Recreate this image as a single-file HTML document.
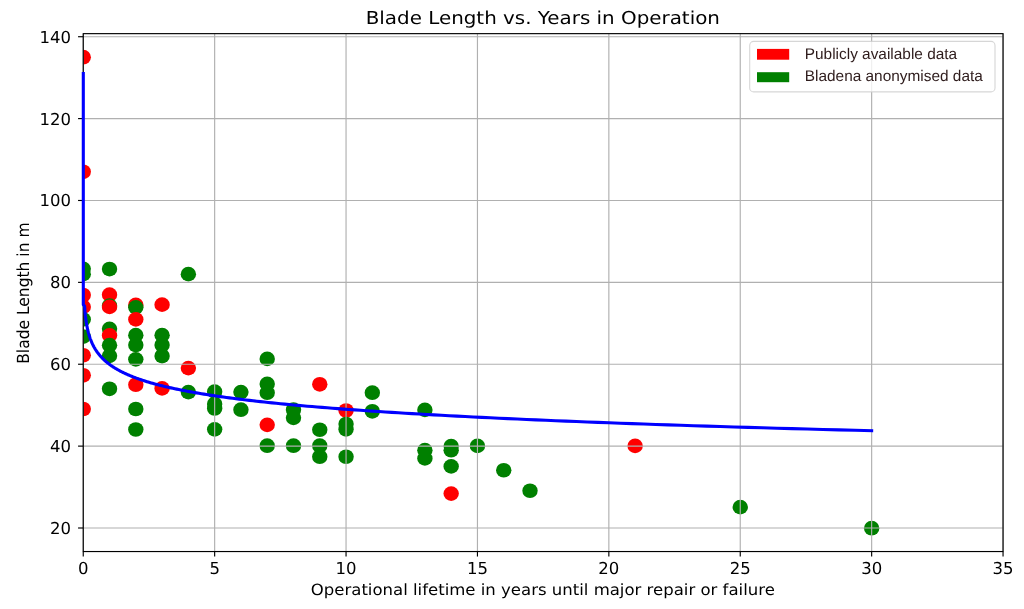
<!DOCTYPE html>
<html><head><meta charset="utf-8"><title>Blade Length vs. Years in Operation</title>
<style>
html,body{margin:0;padding:0;background:#fff;}
body{width:1024px;height:609px;overflow:hidden;}
svg{display:block;will-change:transform;}
text{font-family:"DejaVu Sans","Liberation Sans",sans-serif;fill:#000;text-rendering:geometricPrecision;}
.lg{font-family:"Liberation Sans",Arial,sans-serif;fill:#2e1c1c;}
</style></head><body>
<svg width="1024" height="609" viewBox="0 0 1024 609">
<rect width="1024" height="609" fill="#fff"/>
<defs><clipPath id="ax"><rect x="83.25" y="33.65" width="919.8" height="517.89"/></clipPath></defs>

<g clip-path="url(#ax)">
<ellipse cx="83.25" cy="57.19" rx="7.7" ry="7.35" fill="#ff0000"/>
<ellipse cx="83.25" cy="171.82" rx="7.7" ry="7.35" fill="#ff0000"/>
<ellipse cx="83.25" cy="268.85" rx="7.7" ry="7.35" fill="#008000"/>
<ellipse cx="83.25" cy="274.17" rx="7.7" ry="7.35" fill="#008000"/>
<ellipse cx="83.25" cy="295.05" rx="7.7" ry="7.35" fill="#ff0000"/>
<ellipse cx="83.25" cy="306.92" rx="7.7" ry="7.35" fill="#ff0000"/>
<ellipse cx="83.25" cy="319.41" rx="7.7" ry="7.35" fill="#008000"/>
<ellipse cx="83.25" cy="336.61" rx="7.7" ry="7.35" fill="#008000"/>
<ellipse cx="83.25" cy="355.23" rx="7.7" ry="7.35" fill="#ff0000"/>
<ellipse cx="83.25" cy="375.29" rx="7.7" ry="7.35" fill="#ff0000"/>
<ellipse cx="83.25" cy="408.99" rx="7.7" ry="7.35" fill="#ff0000"/>
<ellipse cx="109.53" cy="269.05" rx="7.7" ry="7.35" fill="#008000"/>
<ellipse cx="109.53" cy="294.64" rx="7.7" ry="7.35" fill="#ff0000"/>
<ellipse cx="109.53" cy="305.7" rx="7.7" ry="7.35" fill="#008000"/>
<ellipse cx="109.53" cy="306.92" rx="7.7" ry="7.35" fill="#ff0000"/>
<ellipse cx="109.53" cy="328.83" rx="7.7" ry="7.35" fill="#008000"/>
<ellipse cx="109.53" cy="335.38" rx="7.7" ry="7.35" fill="#ff0000"/>
<ellipse cx="109.53" cy="345.2" rx="7.7" ry="7.35" fill="#008000"/>
<ellipse cx="109.53" cy="355.85" rx="7.7" ry="7.35" fill="#008000"/>
<ellipse cx="109.53" cy="388.8" rx="7.7" ry="7.35" fill="#008000"/>
<ellipse cx="135.81" cy="304.88" rx="7.7" ry="7.35" fill="#ff0000"/>
<ellipse cx="135.81" cy="307.33" rx="7.7" ry="7.35" fill="#008000"/>
<ellipse cx="135.81" cy="319.41" rx="7.7" ry="7.35" fill="#ff0000"/>
<ellipse cx="135.81" cy="335.17" rx="7.7" ry="7.35" fill="#008000"/>
<ellipse cx="135.81" cy="345" rx="7.7" ry="7.35" fill="#008000"/>
<ellipse cx="135.81" cy="359.33" rx="7.7" ry="7.35" fill="#008000"/>
<ellipse cx="135.81" cy="384.71" rx="7.7" ry="7.35" fill="#ff0000"/>
<ellipse cx="135.81" cy="408.99" rx="7.7" ry="7.35" fill="#008000"/>
<ellipse cx="135.81" cy="429.5" rx="7.7" ry="7.35" fill="#008000"/>
<ellipse cx="162.09" cy="304.67" rx="7.7" ry="7.35" fill="#ff0000"/>
<ellipse cx="162.09" cy="335.17" rx="7.7" ry="7.35" fill="#008000"/>
<ellipse cx="162.09" cy="345" rx="7.7" ry="7.35" fill="#008000"/>
<ellipse cx="162.09" cy="356.05" rx="7.7" ry="7.35" fill="#008000"/>
<ellipse cx="162.09" cy="388.39" rx="7.7" ry="7.35" fill="#ff0000"/>
<ellipse cx="188.37" cy="274.17" rx="7.7" ry="7.35" fill="#008000"/>
<ellipse cx="188.37" cy="368.09" rx="7.7" ry="7.35" fill="#ff0000"/>
<ellipse cx="188.37" cy="392.08" rx="7.7" ry="7.35" fill="#008000"/>
<ellipse cx="214.65" cy="391.67" rx="7.7" ry="7.35" fill="#008000"/>
<ellipse cx="214.65" cy="403.95" rx="7.7" ry="7.35" fill="#008000"/>
<ellipse cx="214.65" cy="408.46" rx="7.7" ry="7.35" fill="#008000"/>
<ellipse cx="214.65" cy="429.33" rx="7.7" ry="7.35" fill="#008000"/>
<ellipse cx="240.93" cy="392.08" rx="7.7" ry="7.35" fill="#008000"/>
<ellipse cx="240.93" cy="409.68" rx="7.7" ry="7.35" fill="#008000"/>
<ellipse cx="267.21" cy="358.92" rx="7.7" ry="7.35" fill="#008000"/>
<ellipse cx="267.21" cy="383.89" rx="7.7" ry="7.35" fill="#008000"/>
<ellipse cx="267.21" cy="392.69" rx="7.7" ry="7.35" fill="#008000"/>
<ellipse cx="267.21" cy="424.83" rx="7.7" ry="7.35" fill="#ff0000"/>
<ellipse cx="267.21" cy="445.71" rx="7.7" ry="7.35" fill="#008000"/>
<ellipse cx="293.49" cy="409.68" rx="7.7" ry="7.35" fill="#008000"/>
<ellipse cx="293.49" cy="417.87" rx="7.7" ry="7.35" fill="#008000"/>
<ellipse cx="293.49" cy="445.71" rx="7.7" ry="7.35" fill="#008000"/>
<ellipse cx="319.77" cy="384.3" rx="7.7" ry="7.35" fill="#ff0000"/>
<ellipse cx="319.77" cy="429.74" rx="7.7" ry="7.35" fill="#008000"/>
<ellipse cx="319.77" cy="445.71" rx="7.7" ry="7.35" fill="#008000"/>
<ellipse cx="319.77" cy="456.76" rx="7.7" ry="7.35" fill="#008000"/>
<ellipse cx="346.05" cy="410.5" rx="7.7" ry="7.35" fill="#ff0000"/>
<ellipse cx="346.05" cy="424.01" rx="7.7" ry="7.35" fill="#008000"/>
<ellipse cx="346.05" cy="429.33" rx="7.7" ry="7.35" fill="#008000"/>
<ellipse cx="346.05" cy="456.76" rx="7.7" ry="7.35" fill="#008000"/>
<ellipse cx="372.33" cy="392.69" rx="7.7" ry="7.35" fill="#008000"/>
<ellipse cx="372.33" cy="411.32" rx="7.7" ry="7.35" fill="#008000"/>
<ellipse cx="424.89" cy="409.89" rx="7.7" ry="7.35" fill="#008000"/>
<ellipse cx="424.89" cy="450.21" rx="7.7" ry="7.35" fill="#008000"/>
<ellipse cx="424.89" cy="458.4" rx="7.7" ry="7.35" fill="#008000"/>
<ellipse cx="451.17" cy="446.12" rx="7.7" ry="7.35" fill="#008000"/>
<ellipse cx="451.17" cy="450.21" rx="7.7" ry="7.35" fill="#008000"/>
<ellipse cx="451.17" cy="466.39" rx="7.7" ry="7.35" fill="#008000"/>
<ellipse cx="451.17" cy="493.61" rx="7.7" ry="7.35" fill="#ff0000"/>
<ellipse cx="477.45" cy="445.92" rx="7.7" ry="7.35" fill="#008000"/>
<ellipse cx="503.73" cy="470.27" rx="7.7" ry="7.35" fill="#008000"/>
<ellipse cx="530.01" cy="490.74" rx="7.7" ry="7.35" fill="#008000"/>
<ellipse cx="635.13" cy="445.92" rx="7.7" ry="7.35" fill="#ff0000"/>
<ellipse cx="740.25" cy="507.12" rx="7.7" ry="7.35" fill="#008000"/>
<ellipse cx="871.65" cy="528.2" rx="7.7" ry="7.35" fill="#008000"/>
</g>
<g stroke="#b0b0b0" stroke-width="1.15" fill="none">
<line x1="83.25" y1="33.65" x2="83.25" y2="551.54"/>
<line x1="214.65" y1="33.65" x2="214.65" y2="551.54"/>
<line x1="346.05" y1="33.65" x2="346.05" y2="551.54"/>
<line x1="477.45" y1="33.65" x2="477.45" y2="551.54"/>
<line x1="608.85" y1="33.65" x2="608.85" y2="551.54"/>
<line x1="740.25" y1="33.65" x2="740.25" y2="551.54"/>
<line x1="871.65" y1="33.65" x2="871.65" y2="551.54"/>
<line x1="1003.05" y1="33.65" x2="1003.05" y2="551.54"/>
<line x1="83.25" y1="528" x2="1003.05" y2="528"/>
<line x1="83.25" y1="446.12" x2="1003.05" y2="446.12"/>
<line x1="83.25" y1="364.24" x2="1003.05" y2="364.24"/>
<line x1="83.25" y1="282.36" x2="1003.05" y2="282.36"/>
<line x1="83.25" y1="200.48" x2="1003.05" y2="200.48"/>
<line x1="83.25" y1="118.6" x2="1003.05" y2="118.6"/>
<line x1="83.25" y1="36.72" x2="1003.05" y2="36.72"/>
</g>
<g stroke="#000" stroke-width="1.15" fill="none" stroke-linecap="square">
<rect x="83.25" y="33.65" width="919.8" height="517.89"/>
</g><g stroke="#000" stroke-width="1.15">
<line x1="83.25" y1="551.54" x2="83.25" y2="556.54"/>
<line x1="214.65" y1="551.54" x2="214.65" y2="556.54"/>
<line x1="346.05" y1="551.54" x2="346.05" y2="556.54"/>
<line x1="477.45" y1="551.54" x2="477.45" y2="556.54"/>
<line x1="608.85" y1="551.54" x2="608.85" y2="556.54"/>
<line x1="740.25" y1="551.54" x2="740.25" y2="556.54"/>
<line x1="871.65" y1="551.54" x2="871.65" y2="556.54"/>
<line x1="1003.05" y1="551.54" x2="1003.05" y2="556.54"/>
<line x1="83.25" y1="528" x2="78.05" y2="528"/>
<line x1="83.25" y1="446.12" x2="78.05" y2="446.12"/>
<line x1="83.25" y1="364.24" x2="78.05" y2="364.24"/>
<line x1="83.25" y1="282.36" x2="78.05" y2="282.36"/>
<line x1="83.25" y1="200.48" x2="78.05" y2="200.48"/>
<line x1="83.25" y1="118.6" x2="78.05" y2="118.6"/>
<line x1="83.25" y1="36.72" x2="78.05" y2="36.72"/>
</g>
<path d="M83.3 73.57 L83.3 304.67 L84.56 306.02 L84.59 306.44 L84.62 306.86 L84.65 307.27 L84.68 307.69 L84.71 308.1 L84.74 308.52 L84.78 308.93 L84.81 309.35 L84.84 309.76 L84.88 310.18 L84.91 310.6 L84.95 311.01 L84.98 311.43 L85.02 311.84 L85.06 312.26 L85.1 312.67 L85.14 313.09 L85.18 313.5 L85.22 313.92 L85.26 314.34 L85.31 314.75 L85.35 315.17 L85.4 315.58 L85.44 316 L85.49 316.41 L85.54 316.83 L85.59 317.24 L85.64 317.66 L85.69 318.08 L85.74 318.49 L85.79 318.91 L85.85 319.32 L85.91 319.74 L85.96 320.15 L86.02 320.57 L86.08 320.98 L86.14 321.4 L86.2 321.81 L86.27 322.23 L86.33 322.65 L86.4 323.06 L86.47 323.48 L86.54 323.89 L86.61 324.31 L86.68 324.72 L86.75 325.14 L86.83 325.55 L86.91 325.97 L86.99 326.39 L87.07 326.8 L87.15 327.22 L87.23 327.63 L87.32 328.05 L87.41 328.46 L87.5 328.88 L87.59 329.29 L87.68 329.71 L87.78 330.13 L87.87 330.54 L87.97 330.96 L88.07 331.37 L88.18 331.79 L88.29 332.2 L88.39 332.62 L88.5 333.03 L88.62 333.45 L88.73 333.87 L88.85 334.28 L88.97 334.7 L89.1 335.11 L89.22 335.53 L89.35 335.94 L89.48 336.36 L89.62 336.77 L89.75 337.19 L89.89 337.61 L90.04 338.02 L90.18 338.44 L90.33 338.85 L90.48 339.27 L90.64 339.68 L90.8 340.1 L90.96 340.51 L91.13 340.93 L91.3 341.34 L91.47 341.76 L91.65 342.18 L91.83 342.59 L92.02 343.01 L92.2 343.42 L92.4 343.84 L92.59 344.25 L92.8 344.67 L93 345.08 L93.21 345.5 L93.43 345.92 L93.65 346.33 L93.87 346.75 L94.1 347.16 L94.33 347.58 L94.57 347.99 L94.82 348.41 L95.06 348.82 L95.32 349.24 L95.58 349.66 L95.85 350.07 L96.12 350.49 L96.39 350.9 L96.68 351.32 L96.97 351.73 L97.26 352.15 L97.56 352.56 L97.87 352.98 L98.19 353.4 L98.51 353.81 L98.84 354.23 L99.17 354.64 L99.52 355.06 L99.87 355.47 L100.23 355.89 L100.59 356.3 L100.97 356.72 L101.35 357.14 L101.74 357.55 L102.14 357.97 L102.54 358.38 L102.96 358.8 L103.38 359.21 L103.82 359.63 L104.26 360.04 L104.71 360.46 L105.18 360.87 L105.65 361.29 L106.13 361.71 L106.63 362.12 L107.13 362.54 L107.64 362.95 L108.17 363.37 L108.71 363.78 L109.26 364.2 L109.82 364.61 L110.39 365.03 L110.97 365.45 L111.57 365.86 L112.18 366.28 L112.8 366.69 L113.44 367.11 L114.09 367.52 L114.76 367.94 L115.44 368.35 L116.13 368.77 L116.84 369.19 L117.56 369.6 L118.3 370.02 L119.06 370.43 L119.83 370.85 L120.62 371.26 L121.42 371.68 L122.25 372.09 L123.09 372.51 L123.94 372.93 L124.82 373.34 L125.72 373.76 L126.63 374.17 L127.57 374.59 L128.52 375 L129.5 375.42 L130.5 375.83 L131.51 376.25 L132.55 376.67 L133.62 377.08 L134.7 377.5 L135.81 377.91 L136.94 378.33 L138.1 378.74 L139.28 379.16 L140.49 379.57 L141.72 379.99 L142.98 380.4 L144.27 380.82 L145.59 381.24 L146.93 381.65 L148.3 382.07 L149.71 382.48 L151.14 382.9 L152.6 383.31 L154.1 383.73 L155.62 384.14 L157.18 384.56 L158.78 384.98 L160.4 385.39 L162.07 385.81 L163.76 386.22 L165.5 386.64 L167.27 387.05 L169.08 387.47 L170.93 387.88 L172.82 388.3 L174.75 388.72 L176.73 389.13 L178.74 389.55 L180.8 389.96 L182.9 390.38 L185.05 390.79 L187.24 391.21 L189.48 391.62 L191.77 392.04 L194.11 392.46 L196.5 392.87 L198.94 393.29 L201.43 393.7 L203.98 394.12 L206.58 394.53 L209.24 394.95 L211.96 395.36 L214.73 395.78 L217.57 396.2 L220.46 396.61 L223.42 397.03 L226.44 397.44 L229.52 397.86 L232.68 398.27 L235.9 398.69 L239.19 399.1 L242.55 399.52 L245.98 399.93 L249.49 400.35 L253.07 400.77 L256.73 401.18 L260.47 401.6 L264.29 402.01 L268.19 402.43 L272.18 402.84 L276.25 403.26 L280.41 403.67 L284.66 404.09 L289 404.51 L293.43 404.92 L297.96 405.34 L302.59 405.75 L307.32 406.17 L312.15 406.58 L317.08 407 L322.12 407.41 L327.27 407.83 L332.53 408.25 L337.9 408.66 L343.39 409.08 L348.99 409.49 L354.72 409.91 L360.57 410.32 L366.55 410.74 L372.65 411.15 L378.89 411.57 L385.26 411.99 L391.77 412.4 L398.42 412.82 L405.21 413.23 L412.15 413.65 L419.24 414.06 L426.48 414.48 L433.88 414.89 L441.44 415.31 L449.16 415.73 L457.04 416.14 L465.1 416.56 L473.33 416.97 L481.73 417.39 L490.32 417.8 L499.1 418.22 L508.06 418.63 L517.21 419.05 L526.57 419.47 L536.12 419.88 L545.88 420.3 L555.85 420.71 L566.04 421.13 L576.44 421.54 L587.07 421.96 L597.93 422.37 L609.02 422.79 L620.35 423.2 L631.93 423.62 L643.75 424.04 L655.83 424.45 L668.17 424.87 L680.78 425.28 L693.66 425.7 L706.81 426.11 L720.25 426.53 L733.98 426.94 L748.01 427.36 L762.33 427.78 L776.97 428.19 L791.92 428.61 L807.19 429.02 L822.8 429.44 L838.73 429.85 L855.02 430.27 L871.65 430.68" fill="none" stroke="#0000ff" stroke-width="3.1" stroke-linecap="square" stroke-linejoin="round"/>
<text transform="translate(83.25 574.2) scale(1.0 1)" font-size="16.5" text-anchor="middle">0</text>
<text transform="translate(214.65 574.2) scale(1.0 1)" font-size="16.5" text-anchor="middle">5</text>
<text transform="translate(346.05 574.2) scale(1.0 1)" font-size="16.5" text-anchor="middle">10</text>
<text transform="translate(477.45 574.2) scale(1.0 1)" font-size="16.5" text-anchor="middle">15</text>
<text transform="translate(608.85 574.2) scale(1.0 1)" font-size="16.5" text-anchor="middle">20</text>
<text transform="translate(740.25 574.2) scale(1.0 1)" font-size="16.5" text-anchor="middle">25</text>
<text transform="translate(871.65 574.2) scale(1.0 1)" font-size="16.5" text-anchor="middle">30</text>
<text transform="translate(1003.05 574.2) scale(1.0 1)" font-size="16.5" text-anchor="middle">35</text>
<text transform="translate(70.9 533.9) scale(1.0 1)" font-size="16.5" text-anchor="end">20</text>
<text transform="translate(70.9 452.02) scale(1.0 1)" font-size="16.5" text-anchor="end">40</text>
<text transform="translate(70.9 370.14) scale(1.0 1)" font-size="16.5" text-anchor="end">60</text>
<text transform="translate(70.9 288.26) scale(1.0 1)" font-size="16.5" text-anchor="end">80</text>
<text transform="translate(70.9 206.38) scale(1.0 1)" font-size="16.5" text-anchor="end">100</text>
<text transform="translate(70.9 124.5) scale(1.0 1)" font-size="16.5" text-anchor="end">120</text>
<text transform="translate(70.9 42.62) scale(1.0 1)" font-size="16.5" text-anchor="end">140</text>
<text transform="translate(542.8 23.6) scale(1.111 1)" font-size="17.9" text-anchor="middle">Blade Length vs. Years in Operation</text>
<text transform="translate(542.8 595.0) scale(1.066 1)" font-size="15.5" text-anchor="middle">Operational lifetime in years until major repair or failure</text>
<text transform="translate(29.35 293.15) scale(1.075 1) rotate(-90)" font-size="15.5" text-anchor="middle">Blade Length in m</text>
<rect x="749.7" y="41.4" width="245.3" height="50.5" rx="4" ry="4" fill="#fff" fill-opacity="0.8" stroke="#cccccc" stroke-opacity="0.8" stroke-width="1.1"/>
<rect x="757.0" y="48.9" width="32.2" height="10.8" fill="#ff0000"/>
<rect x="757.0" y="72.2" width="32.2" height="10.0" fill="#008000"/>
<text class="lg" transform="translate(804.8 58.7)" font-size="15.4">Publicly available data</text>
<text class="lg" transform="translate(804.8 80.7)" font-size="15.4">Bladena anonymised data</text>
</svg>
</body></html>
